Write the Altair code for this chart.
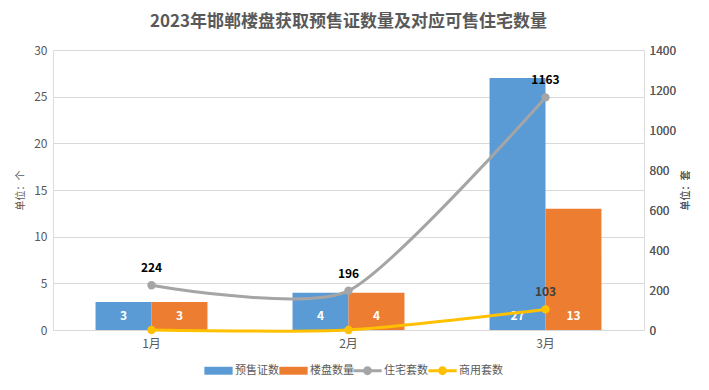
import altair as alt
import pandas as pd

months = ["1月", "2月", "3月"]
bar_series = ["预售证数", "楼盘数量"]
line_series = ["住宅套数", "商用套数"]
presale = [3, 4, 27]
projects = [3, 4, 13]
housing = [224, 196, 1163]
commercial = [0, 0, 103]
bar_colors = ["#5B9BD5", "#ED7D31"]
line_colors = ["#A5A5A5", "#FFC000"]

bar_df = pd.DataFrame(
    [{"month": m, "series": bar_series[0], "value": v} for m, v in zip(months, presale)]
    + [{"month": m, "series": bar_series[1], "value": v} for m, v in zip(months, projects)]
)
line_df = pd.DataFrame(
    [{"month": m, "series": line_series[0], "value": v} for m, v in zip(months, housing)]
    + [{"month": m, "series": line_series[1], "value": v} for m, v in zip(months, commercial)]
)

FONT = "Noto Sans CJK SC"
GREY = "#595959"

line_path = "M-2,-0.22H2V0.22H-2Z M0.62,0A0.62,0.62 0 1,1 -0.62,0A0.62,0.62 0 1,1 0.62,0Z"
rect_path = "M-2,-0.56H2V0.56H-2Z"


def legend(path, lx):
    return alt.Legend(
        orient="none",
        legendX=lx,
        legendY=313,
        title=None,
        direction="horizontal",
        symbolType=path,
        symbolSize=200,
        symbolStrokeWidth=0,
        symbolOpacity=1,
        labelOffset=9,
        columnPadding=0,
        labelFontSize=11,
        labelColor=GREY,
        labelFont=FONT,
    )


bar_color = alt.Color("series:N", sort=bar_series,
                      scale=alt.Scale(domain=bar_series, range=bar_colors),
                      legend=legend(rect_path, 158))
line_color = alt.Color("series:N", sort=line_series,
                       scale=alt.Scale(domain=line_series, range=line_colors),
                       legend=legend(line_path, 307))

x = alt.X(
    "month:N",
    sort=months,
    scale=alt.Scale(paddingInner=0, paddingOuter=0),
    axis=alt.Axis(title=None, labelAngle=0, ticks=False, domain=False, labelPadding=8,
                  labelColor=GREY, labelFontSize=12, labelFont=FONT),
)

y_left = alt.Y(
    "value:Q",
    scale=alt.Scale(domain=[0, 30]),
    axis=alt.Axis(title="单位：个", values=[0, 5, 10, 15, 20, 25, 30], ticks=False, domain=False,
                  gridColor="#D9D9D9", labelColor=GREY, labelFontSize=12, labelFont=FONT,
                  labelPadding=6, titleFontSize=10, titleColor=GREY, titleFont=FONT,
                  titleFontWeight="normal", titlePadding=8, titleAngle=270),
)

y_right = alt.Y(
    "value:Q",
    scale=alt.Scale(domain=[0, 1400]),
    axis=alt.Axis(title="单位：套", orient="right", values=list(range(0, 1401, 200)), format="d",
                  ticks=False, domain=False, grid=False, labelColor=GREY, labelFontSize=12,
                  labelFont=FONT, labelPadding=5, titleFontSize=10, titleColor=GREY,
                  titleFont=FONT, titleFontWeight="normal", titlePadding=15, titleAngle=270),
)

xoff = alt.XOffset("series:N", sort=bar_series,
                   scale=alt.Scale(domain=bar_series, paddingInner=0, paddingOuter=0.76))

bars = alt.Chart(bar_df).mark_bar().encode(x=x, xOffset=xoff, y=y_left, color=bar_color)
bar_text = alt.Chart(bar_df).mark_text(
    color="white", fontWeight="bold", fontSize=12, font=FONT, dy=-14
).encode(x=x, xOffset=xoff, y=alt.datum(0), text="value:Q")

left = alt.layer(bars, bar_text)

lines = alt.Chart(line_df).mark_line(strokeWidth=3, interpolate="cardinal", tension=0.33).encode(
    x=x, y=y_right, color=line_color
)
points = alt.Chart(line_df).mark_point(filled=True, size=70, opacity=1).encode(
    x=x, y=y_right, color=line_color
)
line_text = alt.Chart(line_df).transform_filter("datum.value > 0").mark_text(
    fontWeight="bold", fontSize=12, font=FONT, dy=-17
).encode(
    x=x, y=y_right, text="value:Q",
    color=alt.Color("series:N", scale=alt.Scale(domain=line_series, range=["#000000", "#404040"]), legend=None),
)

right = alt.layer(lines, points)

chart = (
    alt.layer(left, right, line_text)
    .resolve_scale(y="independent", color="independent")
    .properties(
        width=591,
        height=280,
        padding={"left": 7, "right": 5, "top": 5, "bottom": 5},
        title=alt.TitleParams(
            "2023年邯郸楼盘获取预售证数量及对应可售住宅数量",
            fontSize=17, fontWeight="bold", color=GREY, font=FONT, offset=13, anchor="middle",
        ),
    )
    .configure_view(stroke=None)
    .configure(background="white")
)

chart.save("out.html", embed_options={"renderer": "svg", "actions": False})
